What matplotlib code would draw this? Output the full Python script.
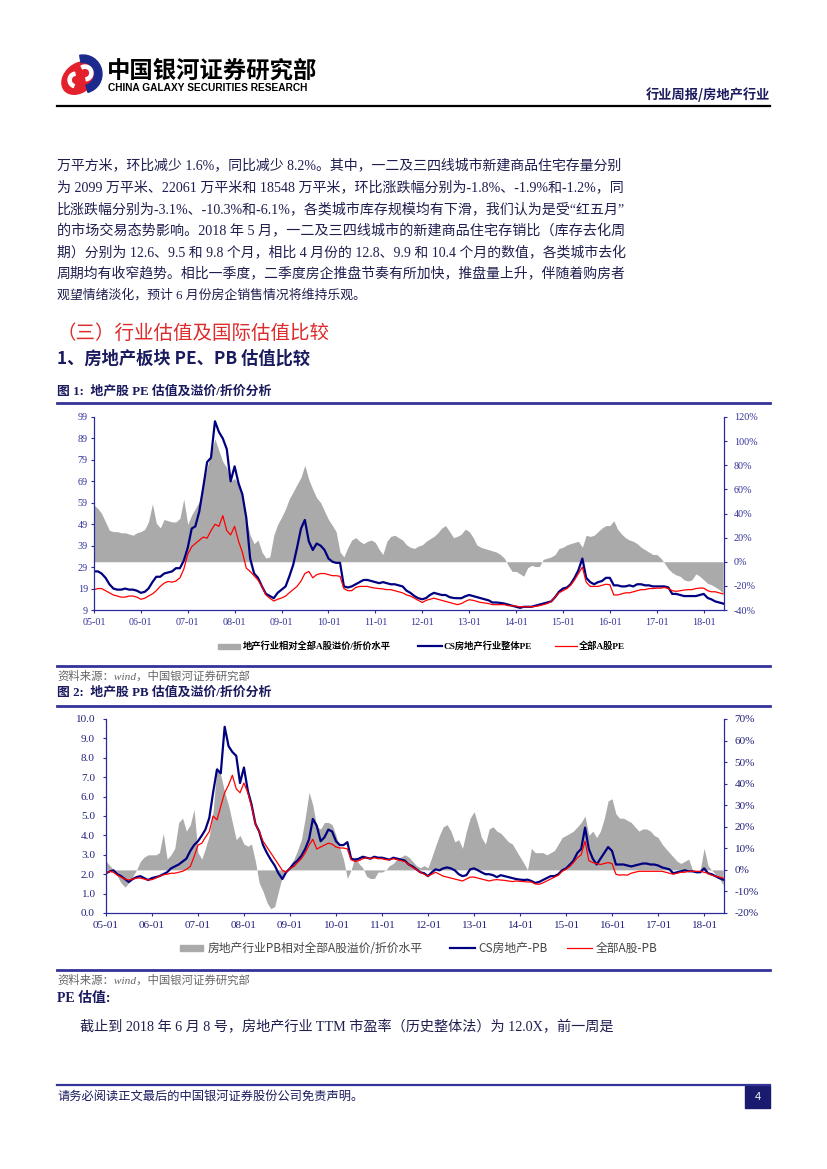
import matplotlib
matplotlib.use('Agg')
import matplotlib.pyplot as plt
from matplotlib.patches import Rectangle, Ellipse, Wedge
from matplotlib.lines import Line2D
from matplotlib.ticker import FuncFormatter
import pandas as pd

# ---------------- data ----------------
dates = pd.date_range('2005-01-01', periods=162, freq='MS')
year_ticks = pd.date_range('2005-01-01', '2018-01-01', freq='YS')
tick_labels = [f'{d:%y-%m}' for d in year_ticks]

pe_cs = [27, 27, 26, 24, 21, 19, 18.5, 18.5, 19, 18.5, 18.5, 18,
         17, 17.5, 19, 22, 24.5, 24.5, 26, 26.5, 27, 28.5, 28.5, 32,
         38, 47, 48, 55, 66, 78, 80, 97, 92, 89, 84, 69,
         76, 68, 63, 52, 33, 26, 24, 20, 16.5, 15.5, 14.5, 17,
         18.5, 20, 24.5, 30, 38, 47, 51, 41, 37, 40, 39, 37,
         33, 31.5, 31, 31, 20, 19.5, 20, 21, 22, 23, 23, 22.5,
         22, 21.5, 22, 21.5, 21, 21, 20.5, 20, 18, 17, 15.5, 14.5,
         14, 14.6, 16, 17, 16.5, 16, 16, 15, 14.6, 14.5, 14.5, 15.4,
         16, 15.5, 15, 14.5, 14, 13.5, 12.5, 12.5, 12.3, 12, 11.5, 11,
         10.5, 10, 10.5, 10.5, 10.5, 11, 11.5, 12, 12.5, 13, 15, 17.5,
         19, 19.5, 21, 24, 27.5, 33, 24, 22, 21, 22, 22.5, 24,
         24, 20.5, 20.5, 20, 20, 20.5, 20, 21, 21, 20.5, 20.5, 20,
         20, 20, 20, 19.5, 16.5, 16.5, 16, 15.5, 15.5, 15.5, 15.5, 16,
         16.5, 14.6, 14, 13, 12.5, 12]

pe_all = [18.5, 19, 19, 18, 17, 16, 15.5, 15, 15, 15.5, 15.5, 15,
          14, 14.5, 15.5, 16.5, 18, 20, 21.5, 22.3, 22, 22.5, 24, 28,
          35, 38.5, 40, 41.5, 43, 42.5, 46, 49, 48, 53, 46, 44,
          48, 41, 36, 28.5, 27, 25, 23, 20, 16, 14.5, 13.2, 14,
          14.6, 15.5, 17, 18.5, 20, 22.5, 26, 27, 24, 25.5, 26, 26,
          25.5, 25, 25, 24.7, 19, 18, 18, 19.5, 20, 20, 20, 19.5,
          19.2, 19, 18.8, 18.5, 18.5, 18, 17.5, 17, 16, 15.5, 14.5, 13.5,
          12.5, 13.5, 14, 14.5, 14, 13.5, 13, 12.5, 12, 11.5, 12, 13,
          13.8, 13.5, 13, 12.5, 12.3, 12, 11.5, 11.5, 11.5, 11.5, 11, 11,
          10.8, 10.5, 10.5, 10.5, 10.5, 10.7, 11, 11.5, 12, 13, 15, 17,
          18, 19, 20.5, 23, 26, 29, 22, 20, 20, 20, 20.5, 21,
          20.8, 16, 16, 16.5, 17, 17, 17.5, 18, 18.5, 18.5, 19, 19,
          19.2, 19.2, 19.5, 19, 18, 17.7, 18, 18.3, 18.5, 18.5, 19, 19.2,
          19.2, 18, 17.5, 17.5, 17, 16.5]

pe_prem = [47, 44, 40, 33, 26, 25, 25, 24, 24, 23, 22, 24,
           25, 27, 33, 48, 32, 28, 35, 34, 33, 33, 36, 52,
           31, 39, 44, 50, 64, 78, 90, 102, 92, 83, 78, 67,
           69, 64, 55, 35, 22, 15, 18, 8, 3, 4, 22, 31,
           37, 44, 52, 58, 64, 70, 80, 68, 60, 53, 49, 42,
           35, 30, 25, 8, 4, 12, 18, 20, 17, 15, 17, 18,
           16, 10, 6, 17, 21, 22, 20, 18, 14, 12, 11, 13,
           14, 17, 19, 21, 24, 28, 30, 25, 20, 21, 23, 27,
           25, 20, 14, 12, 11, 10, 9, 8, 6, 3, -3, -8,
           -8, -10, -12, -5, -3, -4, -4, 2, 3, 4, 6, 11,
           12, 14, 15, 16, 17, 12, 22, 21, 22, 25, 28, 30,
           30, 34, 27, 23, 20, 18, 17, 15, 12, 10, 8, 6,
           6, 3, -1, -6, -9, -11, -12, -15, -16, -15, -10, -12,
           -15, -18, -19, -21, -23, -26]

pb_cs = [2.05, 2.15, 2.2, 2.0, 1.9, 1.75, 1.6, 1.75, 1.85, 1.9, 1.8, 1.7,
         1.8, 1.85, 1.9, 2.0, 2.1, 2.3, 2.4, 2.5, 2.65, 2.8, 3.2, 3.5,
         3.7, 4.0, 4.3, 4.9, 6.2, 7.4, 7.2, 9.6, 8.6, 8.3, 8.1, 6.7,
         7.5, 6.3, 5.6, 4.6, 4.2, 3.5, 3.1, 2.75, 2.45, 2.05, 1.75, 2.1,
         2.3, 2.55, 2.7, 2.95, 3.3, 3.8, 4.85, 4.5, 3.7, 3.9, 4.3, 4.2,
         3.7, 3.5, 3.5, 3.65, 2.8, 2.75, 2.8, 2.9, 2.85, 2.8, 2.9, 2.85,
         2.85, 2.8, 2.75, 2.85, 2.8, 2.75, 2.7, 2.5, 2.4, 2.25, 2.1, 2.05,
         1.9, 2.1, 2.25, 2.2, 2.3, 2.35, 2.3, 2.2, 2.0, 1.9, 1.95, 2.25,
         2.3, 2.2, 2.1, 2.0, 2.0, 1.95, 1.85, 1.95, 1.9, 1.85, 1.8, 1.75,
         1.72, 1.7, 1.72, 1.65, 1.55, 1.6, 1.7, 1.8, 1.9, 1.9, 2.0, 2.2,
         2.3, 2.5, 2.7, 3.1, 3.3, 4.4, 3.3, 2.8, 2.5, 2.8, 3.1, 3.4,
         3.2, 2.5, 2.5, 2.5, 2.45, 2.4, 2.45, 2.5, 2.55, 2.55, 2.5, 2.5,
         2.45, 2.35, 2.3, 2.25, 2.05, 2.1, 2.15, 2.2, 2.15, 2.15, 2.1, 2.1,
         2.3, 2.05, 2.0, 1.9, 1.8, 1.72]

pb_all = [2.05, 2.15, 2.1, 1.95, 1.85, 1.75, 1.7, 1.75, 1.8, 1.8, 1.75, 1.7,
          1.72, 1.8, 1.9, 1.97, 2.0, 2.05, 2.05, 2.1, 2.15, 2.25, 2.4, 2.9,
          3.5, 3.6, 3.9, 4.2, 5.0, 4.8, 5.5, 6.2, 6.6, 7.1, 6.4, 6.2,
          6.7, 6.2, 5.5, 4.6, 4.2, 3.7, 3.4, 3.1, 2.8, 2.5, 2.2, 2.1,
          2.3, 2.4, 2.6, 2.8, 3.1, 3.5, 3.8, 3.3, 3.4, 3.5, 3.6, 3.55,
          3.4, 3.35, 3.35, 3.3, 2.75, 2.65, 2.7, 2.8, 2.85, 2.8, 2.85, 2.8,
          2.8, 2.75, 2.75, 2.8, 2.75, 2.7, 2.65, 2.5, 2.35, 2.25, 2.1, 2.0,
          1.9, 2.0, 2.1, 2.0, 1.9, 1.85, 1.8, 1.75, 1.7, 1.65, 1.75, 1.85,
          1.85, 1.8, 1.75, 1.7, 1.65, 1.7, 1.72, 1.7, 1.68, 1.65, 1.62, 1.65,
          1.63, 1.62, 1.6, 1.6, 1.5, 1.48, 1.55, 1.65, 1.75, 1.85, 1.95, 2.15,
          2.25, 2.4, 2.6, 2.85, 3.0, 3.7, 2.7, 2.6, 2.55, 2.5, 2.55, 2.6,
          2.55, 2.0, 1.95, 1.97, 1.95, 2.05, 2.1, 2.15, 2.15, 2.15, 2.15, 2.15,
          2.15, 2.15, 2.1, 2.05, 2.0, 2.05, 2.1, 2.1, 2.15, 2.15, 2.15, 2.15,
          2.1, 2.05, 1.95, 1.9, 1.85, 1.8]

pb_prem = [4, 2, 0, -3, -6, -8, -6, -3, 0, 4, 6, 7,
           7, 7, 8, 17, 5, 7, 10, 22, 24, 18, 21, 28,
           8, 5, 10, 16, 27, 48, 44, 36, 30, 22, 14, 16,
           12, 11, 12, 4, -6, -10, -15, -18, -17, -10, -3, 0,
           2, 5, 9, 14, 24, 36, 30, 20, 19, 22, 22, 21,
           16, 10, 5, -4, 0, 6, 3, 1, -3, -4, -4, -1,
           -1, 0, 2, 3, 5, 6, 7, 6, 4, 2, 1, 2,
           1, 6, 11, 16, 20, 21, 18, 13, 14, 10, 18, 24,
           27, 21, 15, 12, 19, 20, 18, 17, 15, 13, 12, 9,
           6, 3, 0, 10, 8, 8, 8, 7, 8, 9, 12, 15,
           16, 17, 18, 20, 22, 25, 16, 18, 15, 18, 24, 32,
           33, 26, 24, 24, 23, 22, 20, 18, 19, 19, 18, 16,
           15, 12, 10, 8, 6, 4, 3, 4, 5, 0, 0, 0,
           10, 2, 0, -2, -4, -7]

para_lines = [
    "万平方米，环比减少 1.6%，同比减少 8.2%。其中，一二及三四线城市新建商品住宅存量分别",
    "为 2099 万平米、22061 万平米和 18548 万平米，环比涨跌幅分别为-1.8%、-1.9%和-1.2%，同",
    "比涨跌幅分别为-3.1%、-10.3%和-6.1%，各类城市库存规模均有下滑，我们认为是受“红五月”",
    "的市场交易态势影响。2018 年 5 月，一二及三四线城市的新建商品住宅存销比（库存去化周",
    "期）分别为 12.6、9.5 和 9.8 个月，相比 4 月份的 12.8、9.9 和 10.4 个月的数值，各类城市去化",
    "周期均有收窄趋势。相比一季度，二季度房企推盘节奏有所加快，推盘量上升，伴随着购房者",
    "观望情绪淡化，预计 6 月份房企销售情况将维持乐观。",
]

# ---------------- style ----------------
W, H = 827, 1169
CJK = 'Noto Sans CJK SC'
MIX = ['Liberation Serif', CJK]
plt.rcParams['font.family'] = MIX
plt.rcParams['axes.unicode_minus'] = False

NAVY = '#000080'
RULE = '#333399'
TXT = '#1e1e50'
GRAY_FILL = '#aaaaaa'

fig = plt.figure(figsize=(W / 100, H / 100), dpi=100)
renderer = fig.canvas.get_renderer()


def fx(x):
    return x / W


def fy(y):
    return 1 - y / H


def hline(y, x0=57, x1=770, color=RULE, lw=2.0):
    fig.add_artist(Line2D([fx(x0), fx(x1)], [fy(y), fy(y)], color=color, lw=lw,
                          transform=fig.transFigure))


# ---------------- header ----------------
lax = fig.add_axes([fx(58), fy(98), 46 / W, 44 / H])
lax.set_xlim(0, 46)
lax.set_ylim(0, 44)
lax.axis('off')
lax.add_patch(Ellipse((21, 20), 38, 28, angle=40, color='#e3202b'))
lax.add_patch(Wedge((25, 24), 19, -75, 100, width=7.5, color='#1b2a8c'))
lax.add_patch(Wedge((27, 25), 8, -80, 120, width=3.2, color='white'))
lax.add_patch(Wedge((18, 18), 8, 100, 250, width=3.2, color='white'))

fig.text(fx(107), fy(71), '中国银河证券研究部', fontsize=16.8, fontweight='bold',
         family=[CJK], color='black', va='center', ha='left')
fig.text(fx(108), fy(88), 'CHINA GALAXY SECURITIES RESEARCH', fontsize=7.3,
         fontweight='bold', family=['Liberation Sans'], color='black', va='center', ha='left')
fig.text(fx(770), fy(95), '行业周报/房地产行业', fontsize=9.5, fontweight='bold',
         family=[CJK], color='#1a1a5e', va='center', ha='right')
hline(105.5, color='black', lw=1.6)

# ---------------- body text ----------------
para_y = [165, 187, 209, 231, 252, 273, 295]
target_w = 623 - 57
for i, (line, y) in enumerate(zip(para_lines, para_y)):
    t = fig.text(fx(57), fy(y), line, fontsize=9.3, family=MIX, color=TXT,
                 va='center', ha='left')
    if i < len(para_lines) - 1:
        w = t.get_window_extent(renderer).width
        fs = 9.3 * target_w / w
        t.set_fontsize(min(max(fs, 8.6), 10.2))

fig.text(fx(57), fy(333), '（三）行业估值及国际估值比较', fontsize=14, family=[CJK],
         color='#dd2b2b', va='center', ha='left')
fig.text(fx(57), fy(359), '1、房地产板块 PE、PB 估值比较', fontsize=12.4, fontweight='bold',
         family=[CJK], color='#1a1a5e', va='center', ha='left')
fig.text(fx(57), fy(391), '图 1:  地产股 PE 估值及溢价/折价分析', fontsize=9.3, fontweight='bold',
         family=MIX, color='#1a1a5e', va='center', ha='left')
hline(403)


def style_chart(ax, axr, lsize, lpad, rpad, bpad, lcolor):
    ax.spines['top'].set_visible(False)
    axr.spines['top'].set_visible(False)
    ax.spines['right'].set_visible(False)
    axr.spines['left'].set_visible(False)
    axr.spines['bottom'].set_visible(False)
    for s in ['left', 'bottom']:
        ax.spines[s].set_color('#2a2a9a')
        ax.spines[s].set_linewidth(0.9)
    axr.spines['right'].set_color('#2a2a9a')
    axr.spines['right'].set_linewidth(0.9)
    ax.tick_params(axis='y', direction='out', length=2.5, width=0.8, color='#2a2a9a',
                   labelsize=lsize, labelcolor=lcolor, pad=lpad)
    ax.tick_params(axis='x', direction='out', length=2.5, width=0.8, color='#2a2a9a',
                   labelsize=lsize, labelcolor=lcolor, pad=bpad)
    axr.tick_params(axis='y', direction='out', length=2.5, width=0.8, color='#2a2a9a',
                    labelsize=lsize, labelcolor=lcolor, pad=rpad)
    ax.set_xlim(pd.Timestamp('2005-01-01'), pd.Timestamp('2018-06-08'))
    ax.set_xticks(year_ticks)
    ax.set_xticklabels(tick_labels)
    ax.set_zorder(axr.get_zorder() + 1)
    ax.patch.set_visible(False)


# ---------------- chart 1 ----------------
ax1 = fig.add_axes([fx(94), fy(610), (724 - 94) / W, (610 - 417) / H])
ax1r = ax1.twinx()
ax1r.fill_between(dates, 0, pe_prem, color=GRAY_FILL, lw=0)
ax1.plot(dates, pe_cs, color=NAVY, lw=1.6)
ax1.plot(dates, pe_all, color='#ff0000', lw=0.9)
ax1.set_ylim(9, 99)
ax1.set_yticks(range(9, 100, 10))
ax1r.set_ylim(-40, 120)
ax1r.set_yticks(range(-40, 121, 20))
ax1r.yaxis.set_major_formatter(FuncFormatter(lambda v, p: f'{v:.0f}%'))
style_chart(ax1, ax1r, 7.3, 2, 4.5, 3.5, '#333399')

# legend 1
ly = 646
fig.add_artist(Rectangle((fx(218), fy(ly + 2.5)), 22 / W, 5 / H, color=GRAY_FILL,
                         transform=fig.transFigure))
fig.text(fx(243), fy(ly), '地产行业相对全部A股溢价/折价水平', fontsize=6.7, fontweight='bold',
         family=MIX, color='black', va='center', ha='left')
fig.add_artist(Line2D([fx(418), fx(442)], [fy(ly), fy(ly)], color=NAVY, lw=1.6,
                      transform=fig.transFigure))
fig.text(fx(444), fy(ly), 'CS房地产行业整体PE', fontsize=6.7, fontweight='bold',
         family=MIX, color='black', va='center', ha='left')
fig.add_artist(Line2D([fx(555), fx(577)], [fy(ly), fy(ly)], color='#ff0000', lw=0.9,
                      transform=fig.transFigure))
fig.text(fx(579), fy(ly), '全部A股PE', fontsize=6.7, fontweight='bold',
         family=MIX, color='black', va='center', ha='left')

hline(666)
fig.text(fx(57), fy(676), '资料来源：wind，中国银河证券研究部', fontsize=8.2, family=MIX,
         color='#666666', style='italic', va='center', ha='left')
fig.text(fx(57), fy(692), '图 2:  地产股 PB 估值及溢价/折价分析', fontsize=9.3, fontweight='bold',
         family=MIX, color='#1a1a5e', va='center', ha='left')
hline(706)

# ---------------- chart 2 ----------------
ax2 = fig.add_axes([fx(106), fy(913), (724 - 106) / W, (913 - 719) / H])
ax2r = ax2.twinx()
ax2r.fill_between(dates, 0, pb_prem, color=GRAY_FILL, lw=0)
ax2.plot(dates, pb_cs, color=NAVY, lw=1.6)
ax2.plot(dates, pb_all, color='#ff0000', lw=0.9)
ax2.set_ylim(0, 10)
ax2.set_yticks(range(0, 11))
ax2.yaxis.set_major_formatter(FuncFormatter(lambda v, p: f'{v:.1f}'))
ax2r.set_ylim(-20, 70)
ax2r.set_yticks(range(-20, 71, 10))
ax2r.yaxis.set_major_formatter(FuncFormatter(lambda v, p: f'{v:.0f}%'))
style_chart(ax2, ax2r, 8.1, 5.5, 5, 3.5, '#22227a')

# legend 2
ly2 = 948
fig.add_artist(Rectangle((fx(180), fy(ly2 + 3)), 23 / W, 6 / H, color=GRAY_FILL,
                         transform=fig.transFigure))
fig.text(fx(208), fy(ly2), '房地产行业PB相对全部A股溢价/折价水平', fontsize=8.5,
         family=[CJK], color='#444444', va='center', ha='left')
fig.add_artist(Line2D([fx(450), fx(475)], [fy(ly2), fy(ly2)], color=NAVY, lw=1.6,
                      transform=fig.transFigure))
fig.text(fx(478), fy(ly2), 'CS房地产-PB', fontsize=8.5, family=[CJK], color='#444444',
         va='center', ha='left')
fig.add_artist(Line2D([fx(567), fx(592)], [fy(ly2), fy(ly2)], color='#ff0000', lw=0.9,
                      transform=fig.transFigure))
fig.text(fx(596), fy(ly2), '全部A股-PB', fontsize=8.5, family=[CJK], color='#444444',
         va='center', ha='left')

hline(970)
fig.text(fx(57), fy(980), '资料来源：wind，中国银河证券研究部', fontsize=8.2, family=MIX,
         color='#666666', style='italic', va='center', ha='left')
fig.text(fx(57), fy(998), 'PE 估值:', fontsize=10, fontweight='bold', family=MIX,
         color='#1a1a5e', va='center', ha='left')
t = fig.text(fx(80), fy(1027), '截止到 2018 年 6 月 8 号，房地产行业 TTM 市盈率（历史整体法）为 12.0X，前一周是',
             fontsize=9.3, family=MIX, color=TXT, va='center', ha='left')
w = t.get_window_extent(renderer).width
t.set_fontsize(min(max(9.3 * (623 - 80) / w, 8.6), 10.2))

# ---------------- footer ----------------
hline(1085, lw=1.6)
fig.text(fx(57), fy(1097), '请务必阅读正文最后的中国银河证券股份公司免责声明。', fontsize=8.8,
         family=MIX, color='#1a1a5e', va='center', ha='left')
fig.add_artist(Rectangle((fx(745), fy(1108)), 25 / W, 22 / H, color='#1a1a6e',
                         transform=fig.transFigure))
fig.text(fx(757.5), fy(1097), '4', fontsize=8, family=['Liberation Sans'], color='white',
         va='center', ha='center')

fig.savefig('out.png', dpi=100)
